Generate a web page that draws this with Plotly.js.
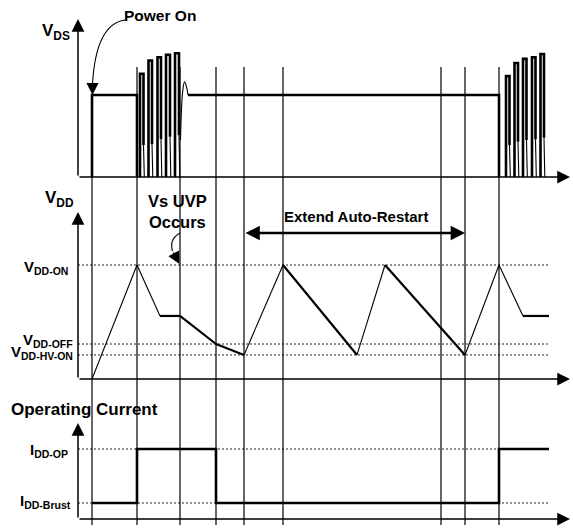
<!DOCTYPE html>
<html><head><meta charset="utf-8">
<script src="https://cdn.plot.ly/plotly-3.0.1.min.js"></script>
<style>html,body{margin:0;padding:0;background:#fff}</style>
</head><body><div id="chart" style="width:573px;height:532px"></div>
<script>
// ---------------- data ----------------
const markers = [92, 137, 180, 216, 244, 283, 441, 465, 499];
const axisStartT = 78, axisEndT = 570, levelEndT = 549;

// VDS (normalised: flat high level = 1)
const vdsStepT = [92, 92, 137, 137];
const vdsStepV = [0, 1, 1, 0];
const burst1Left  = [140, 148.5, 157.5, 166, 175];
const burst1Right = [143.5, 152, 161, 170, 179];
const burst1Peak  = [1.26, 1.42, 1.46, 1.49, 1.51];
const burst1Low   = [0.39, 0.40, 0.46, 0.49, 0.51];
const ringT = [180.5, 182.5, 184.5, 186.5, 188];
const ringV = [0.45, 1.02, 1.16, 1.10, 1.0];
const vdsFlatT = [188, 499, 499];
const vdsFlatV = [1, 1, 0];
const burst2Left  = [506, 514.5, 523, 532, 540.5];
const burst2Right = [509.5, 518, 526.5, 535.5, 544];
const burst2Peak  = [1.23, 1.39, 1.44, 1.46, 1.50];
const burst2Low   = [0.39, 0.43, 0.45, 0.46, 0.48];

// VDD (normalised: VDD-ON = 1)
const vddT = [92, 137, 160, 180, 216, 244, 283, 357, 385, 465, 499, 523, 549];
const vddV = [0, 1, 0.553, 0.553, 0.307, 0.211, 1, 0.211, 1, 0.211, 1, 0.553, 0.553];
const vddLevelV = [1, 0.307, 0.211];
const vddLevelNames = ['V<sub>DD-ON</sub>', 'V<sub>DD-OFF</sub>', 'V<sub>DD-HV-ON</sub>'];

// IDD (normalised: IDD-OP = 1)
const iddT = [92, 137, 137, 216, 216, 499, 499, 549];
const iddV = [0.229, 0.229, 1, 1, 0.229, 0.229, 1, 1];
const iddLevelV = [1, 0.229];
const iddLevelNames = ['I<sub>DD-OP</sub>', 'I<sub>DD-Brust</sub>'];

// ---------------- styles / layout helpers ----------------
const W = 573, H = 532;
const FONT = 'Liberation Sans, Arial, sans-serif';
const px = v => v / W;
const py = v => 1 - v / H;
const P1 = {base: 177, top: 19, unit: 82};
const P2 = {base: 379, top: 212, unit: 114};
const P3 = {base: 519, top: 423, unit: 70};
function dom(p) { return [py(p.base), py(p.top)]; }
function rng(p) { return [0, (p.base - p.top) / p.unit]; }
function yv(p, pix) { return (p.base - pix) / p.unit; }

// ---------------- build VDS traces ----------------
let thickT = [...vdsStepT, null], thickV = [...vdsStepV, null];
let thinT = [], thinV = [];
function addBurst(L, R, Pk, Lo) {
  for (let i = 0; i < L.length; i++) {
    thickT.push(L[i], L[i], R[i], R[i], null);
    thickV.push(0, Pk[i], Pk[i], Lo[i], null);
    thinT.push(R[i], R[i] + 0.8, null);
    thinV.push(Lo[i], 0, null);
  }
}
addBurst(burst1Left, burst1Right, burst1Peak, burst1Low);
thinT.push(...ringT, null); thinV.push(...ringV, null);
thickT.push(...vdsFlatT, null); thickV.push(...vdsFlatV, null);
addBurst(burst2Left, burst2Right, burst2Peak, burst2Low);

const traces = [];
traces.push({x: thickT, y: thickV, xaxis: 'x', yaxis: 'y', mode: 'lines', connectgaps: false,
  line: {color: '#000', width: 2.6}, hoverinfo: 'skip'});
traces.push({x: thinT, y: thinV, xaxis: 'x', yaxis: 'y', mode: 'lines', connectgaps: false,
  line: {color: '#000', width: 1.1, shape: 'spline'}, hoverinfo: 'skip'});

// ---------------- VDD traces ----------------
const vddBold = [0, 0, 1, 1, 1, 0, 1, 0, 1, 0, 0, 1];
let vThinT = [], vThinV = [], vBoldT = [], vBoldV = [];
for (let i = 0; i < vddT.length - 1; i++) {
  const tt = vddBold[i] ? vBoldT : vThinT, vv = vddBold[i] ? vBoldV : vThinV;
  tt.push(vddT[i], vddT[i + 1], null); vv.push(vddV[i], vddV[i + 1], null);
}
vddLevelV.forEach(l => traces.push({x: [axisStartT, levelEndT], y: [l, l], xaxis: 'x', yaxis: 'y2',
  mode: 'lines', line: {color: '#222', width: 1, dash: '2px,2px'}, hoverinfo: 'skip'}));
iddLevelV.forEach(l => traces.push({x: [axisStartT, levelEndT], y: [l, l], xaxis: 'x', yaxis: 'y3',
  mode: 'lines', line: {color: '#222', width: 1, dash: '2px,2px'}, hoverinfo: 'skip'}));
traces.push({x: vThinT, y: vThinV, xaxis: 'x', yaxis: 'y2', mode: 'lines',
  line: {color: '#000', width: 1.1}, hoverinfo: 'skip'});
traces.push({x: vBoldT, y: vBoldV, xaxis: 'x', yaxis: 'y2', mode: 'lines',
  line: {color: '#000', width: 2.2}, hoverinfo: 'skip'});
traces.push({x: iddT, y: iddV, xaxis: 'x', yaxis: 'y3', mode: 'lines',
  line: {color: '#000', width: 2.6}, hoverinfo: 'skip'});

// ---------------- shapes ----------------
const shapes = [];
markers.forEach((m, i) => shapes.push({type: 'line', xref: 'x', yref: 'paper', x0: m, x1: m,
  y0: py(525), y1: i === 0 ? py(P1.base) : py(67), line: {color: '#000', width: 1.2}}));
shapes.push({type: 'path', xref: 'x', yref: 'y',
  path: `M125,${yv(P1, 20)} Q96,${yv(P1, 24)} 92.5,${yv(P1, 84)}`, line: {color: '#000', width: 1.1}});
shapes.push({type: 'path', xref: 'x', yref: 'y2',
  path: `M180,${yv(P2, 233)} Q169,${yv(P2, 239)} 172.5,${yv(P2, 251)}`, line: {color: '#000', width: 1.1}});

// ---------------- annotations ----------------
const ann = [];
function arrow(xr, yr, x, y, ax, ay, w, s) {
  ann.push({xref: xr, yref: yr, axref: xr, ayref: yr, x: x, y: y, ax: ax, ay: ay, text: '',
    showarrow: true, arrowhead: 2, arrowsize: s, arrowwidth: w, arrowcolor: '#000', standoff: 0, startstandoff: 0});
}
[[P1, 'y'], [P2, 'y2'], [P3, 'y3']].forEach(([p, ya]) => {
  arrow('x', ya, axisStartT, rng(p)[1], axisStartT, 0, 1.5, 1.7);
  arrow('x', ya, axisEndT, 0, axisStartT, 0, 1.5, 1.7);
});
arrow('x', 'y', 92.5, yv(P1, 95), 92.5, yv(P1, 84), 1.1, 2.2);
arrow('x', 'y2', 179.5, yv(P2, 264), 172.5, yv(P2, 251), 1.1, 2.2);
ann.push({xref: 'x', yref: 'y2', axref: 'x', ayref: 'y2', x: 465, y: yv(P2, 233), ax: 244, ay: yv(P2, 233),
  text: '', showarrow: true, arrowhead: 2, arrowside: 'end+start', arrowsize: 1.1, arrowwidth: 2.6,
  arrowcolor: '#000', standoff: 0, startstandoff: 0});

function label(text, x, y, xa, size) {
  ann.push({xref: 'paper', yref: 'paper', x: px(x), y: py(y), xanchor: xa, yanchor: 'middle',
    text: text, showarrow: false, font: {family: FONT, size: size, color: '#000'}});
}
label('<b>Power On</b>', 160, 15, 'center', 15.5);
label('<b>V<sub>DS</sub></b>', 40, 32, 'left', 17);
label('<b>V<sub>DD</sub></b>', 43, 199, 'left', 17);
label('<b>Vs UVP<br>Occurs</b>', 177, 211, 'center', 16.5);
label('<b>Extend Auto-Restart</b>', 356, 216, 'center', 15);
label('<b>Operating Current</b>', 9, 409, 'left', 17);
const vddLabelPix = [267, 340, 352];
const vddLabelRight = [70, 75, 75];
vddLevelNames.forEach((n, i) => label('<b>' + n + '</b>', vddLabelRight[i], vddLabelPix[i], 'right', 15));
const iddLabelPix = [450, 501];
const iddLabelRight = [70, 73];
iddLevelNames.forEach((n, i) => label('<b>' + n + '</b>', iddLabelRight[i], iddLabelPix[i], 'right', 15));

const hid = {visible: false, showgrid: false, zeroline: false, fixedrange: true};
const layout = {
  width: W, height: H, margin: {l: 0, r: 0, t: 0, b: 0},
  paper_bgcolor: '#fff', plot_bgcolor: 'rgba(0,0,0,0)', showlegend: false,
  xaxis: Object.assign({range: [0, W], domain: [0, 1]}, hid),
  yaxis: Object.assign({domain: dom(P1), range: rng(P1), anchor: 'x'}, hid),
  yaxis2: Object.assign({domain: dom(P2), range: rng(P2), anchor: 'x'}, hid),
  yaxis3: Object.assign({domain: dom(P3), range: rng(P3), anchor: 'x'}, hid),
  shapes: shapes, annotations: ann
};
Plotly.newPlot('chart', traces, layout, {staticPlot: true, displayModeBar: false});
</script></body></html>
